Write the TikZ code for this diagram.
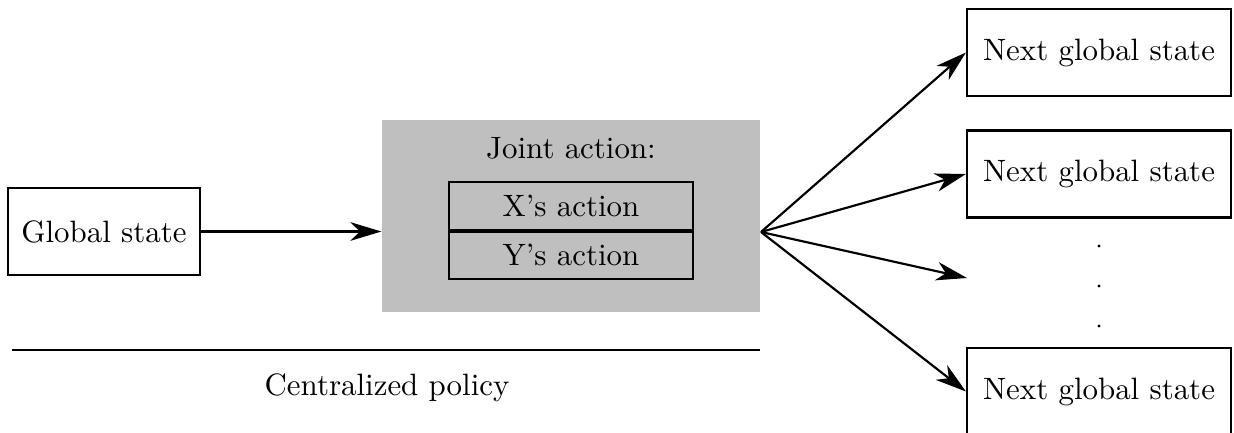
\documentclass[tikz,border=0pt]{standalone}
\usetikzlibrary{arrows.meta}
\definecolor{panelgray}{gray}{0.75}
\tikzset{
  statebox/.style={draw, line width=0.7pt, rectangle, inner sep=0pt, minimum height=28.15pt},
  cell/.style={draw, line width=0.6pt, rectangle, inner sep=0pt, minimum width=78.96pt},
  link/.style={line width=0.7pt, -{Stealth[length=10pt, width=6pt, inset=3pt]}},
  dot/.style={circle, fill, inner sep=0pt, minimum size=1.1pt}
}
\begin{document}
\begin{tikzpicture}[x=0.3236pt, y=-0.3236pt]
  \useasboundingbox (0,0) rectangle (1234,432);

  % input state
  \node[statebox, minimum width=62.13pt] (gs) at (104,231.5) {Global state};

  % joint action panel
  \node[fill=panelgray, inner sep=0pt, minimum width=122.3pt, minimum height=62.1pt] (panel) at (571,216) {};
  \node (joint) at (571,148) {Joint action:};
  \node[cell, minimum height=15.53pt] (xa) at (571,206) {X's action};
  \node[cell, minimum height=15.21pt, anchor=north] (ya) at (xa.south) {Y's action};

  % policy label
  \coordinate (rl) at (12,350);
  \coordinate (rr) at (760,350);
  \draw[line width=0.7pt] (rl) -- (rr);
  \node (policy) at (387,388) {Centralized policy};

  % successor states
  \node[statebox, minimum width=85.43pt] (n1) at (1099,52.5) {Next global state};
  \node[statebox, minimum width=85.43pt] (n2) at (1099,174) {Next global state};
  \node[statebox, minimum width=85.43pt] (n3) at (1099,391.5) {Next global state};
  \node[dot] (d1) at (1099,246) {};
  \node[dot] (d2) at (1099,286) {};
  \node[dot] (d3) at (1099,326) {};

  % connectors
  \coordinate (src) at (761,232);
  \coordinate (more) at (967,278);
  \draw[link] (gs.east) -- (panel.west |- gs.east);
  \draw[link] (src) -- (n1.west);
  \draw[link] (src) -- (n2.west);
  \draw[link] (src) -- (more);
  \draw[link] (src) -- (n3.west);
\end{tikzpicture}
\end{document}
